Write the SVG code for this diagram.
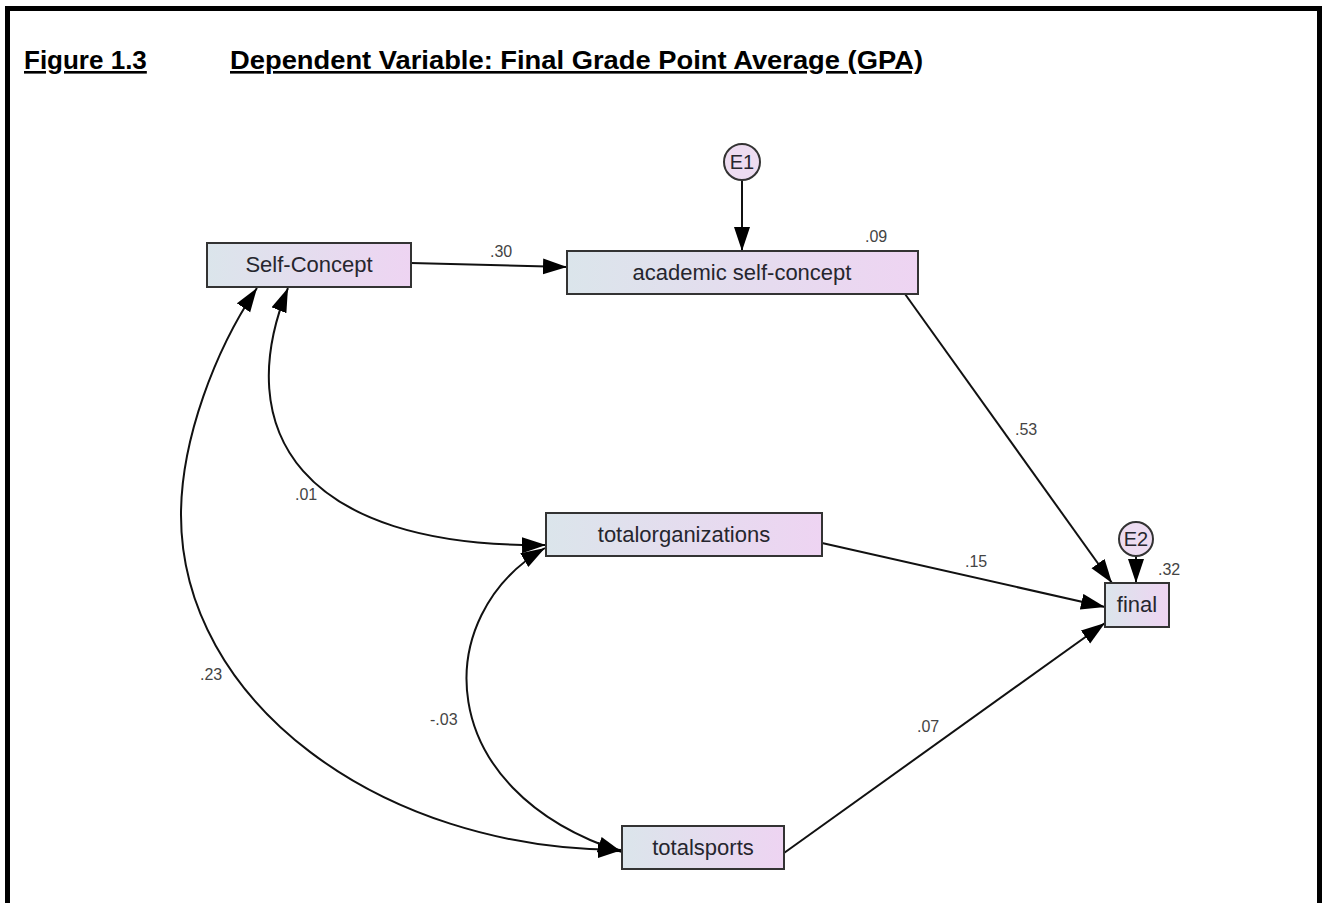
<svg xmlns="http://www.w3.org/2000/svg" width="1327" height="903" viewBox="0 0 1327 903">
<defs>
<linearGradient id="boxfill" x1="0" y1="0" x2="1" y2="0">
<stop offset="0" stop-color="#dbe5eb"/>
<stop offset="1" stop-color="#eed4f2"/>
</linearGradient>
<marker id="ah" markerUnits="userSpaceOnUse" markerWidth="26" markerHeight="18" refX="24" refY="8" orient="auto-start-reverse">
<path d="M0,0 L24,8 L0,16 z" fill="#000"/>
</marker>
<style>
.box{fill:url(#boxfill);stroke:#333;stroke-width:2}
.err{fill:#eddcf1;stroke:#333;stroke-width:2}
.lbl{font-family:"Liberation Sans",Arial,sans-serif;font-size:22px;fill:#26262e;text-anchor:middle}
.elbl{font-family:"Liberation Sans",Arial,sans-serif;font-size:20px;fill:#26262e;text-anchor:middle}
.coef{font-family:"Liberation Sans",Arial,sans-serif;font-size:16px;fill:#444}
.ln{fill:none;stroke:#111;stroke-width:2}
.title{font-family:"Liberation Sans",Arial,sans-serif;font-size:26px;font-weight:bold;fill:#000;text-decoration:underline}
</style>
</defs>
<rect x="0" y="0" width="1327" height="903" fill="#fff"/>
<path d="M7.5 910 L7.5 8.5 L1319.5 8.5 L1319.5 910" fill="none" stroke="#000" stroke-width="5"/>
<g id="title">
<text class="title" x="24" y="69">Figure 1.3</text>
<text class="title" x="230" y="69" textLength="693" lengthAdjust="spacingAndGlyphs">Dependent Variable: Final Grade Point Average (GPA)</text>
</g>
<g id="connectors">
<path class="ln" d="M742 180 L742 251" marker-end="url(#ah)"/>
<path class="ln" d="M1136 556 L1136 583" marker-end="url(#ah)"/>
<path class="ln" d="M411 263 L567 267" marker-end="url(#ah)"/>
<path class="ln" d="M905 294 L1112 583" marker-end="url(#ah)"/>
<path class="ln" d="M822 543 L1105 607" marker-end="url(#ah)"/>
<path class="ln" d="M784 853 L1105 623" marker-end="url(#ah)"/>
<path class="ln" d="M288 288 C230 430 300 548 546 545" marker-start="url(#ah)" marker-end="url(#ah)"/>
<path class="ln" d="M257 288 C215 350 181 440 181 515 C181 700 378 850 622 850" marker-start="url(#ah)" marker-end="url(#ah)"/>
<path class="ln" d="M545 548 C430 615 430 790 622 852" marker-start="url(#ah)" marker-end="url(#ah)"/>
<text class="coef" x="490" y="257">.30</text>
<text class="coef" x="865" y="242">.09</text>
<text class="coef" x="1015" y="435">.53</text>
<text class="coef" x="1158" y="575">.32</text>
<text class="coef" x="965" y="567">.15</text>
<text class="coef" x="917" y="732">.07</text>
<text class="coef" x="295" y="500">.01</text>
<text class="coef" x="200" y="680">.23</text>
<text class="coef" x="430" y="725">-.03</text>
</g>
<g id="node-self-concept">
<rect class="box" x="207" y="243" width="204" height="44"/>
<text class="lbl" x="309" y="272">Self-Concept</text>
</g>
<g id="node-academic">
<rect class="box" x="567" y="251" width="351" height="43"/>
<text class="lbl" x="742" y="280">academic self-concept</text>
</g>
<g id="node-totalorganizations">
<rect class="box" x="546" y="513" width="276" height="43"/>
<text class="lbl" x="684" y="542">totalorganizations</text>
</g>
<g id="node-totalsports">
<rect class="box" x="622" y="826" width="162" height="43"/>
<text class="lbl" x="703" y="855">totalsports</text>
</g>
<g id="node-final">
<rect class="box" x="1105" y="583" width="64" height="44"/>
<text class="lbl" x="1137" y="612">final</text>
</g>
<g id="node-e1">
<circle class="err" cx="742" cy="162" r="18"/>
<text class="elbl" x="742" y="169">E1</text>
</g>
<g id="node-e2">
<circle class="err" cx="1136" cy="539" r="17"/>
<text class="elbl" x="1136" y="546">E2</text>
</g>
</svg>
